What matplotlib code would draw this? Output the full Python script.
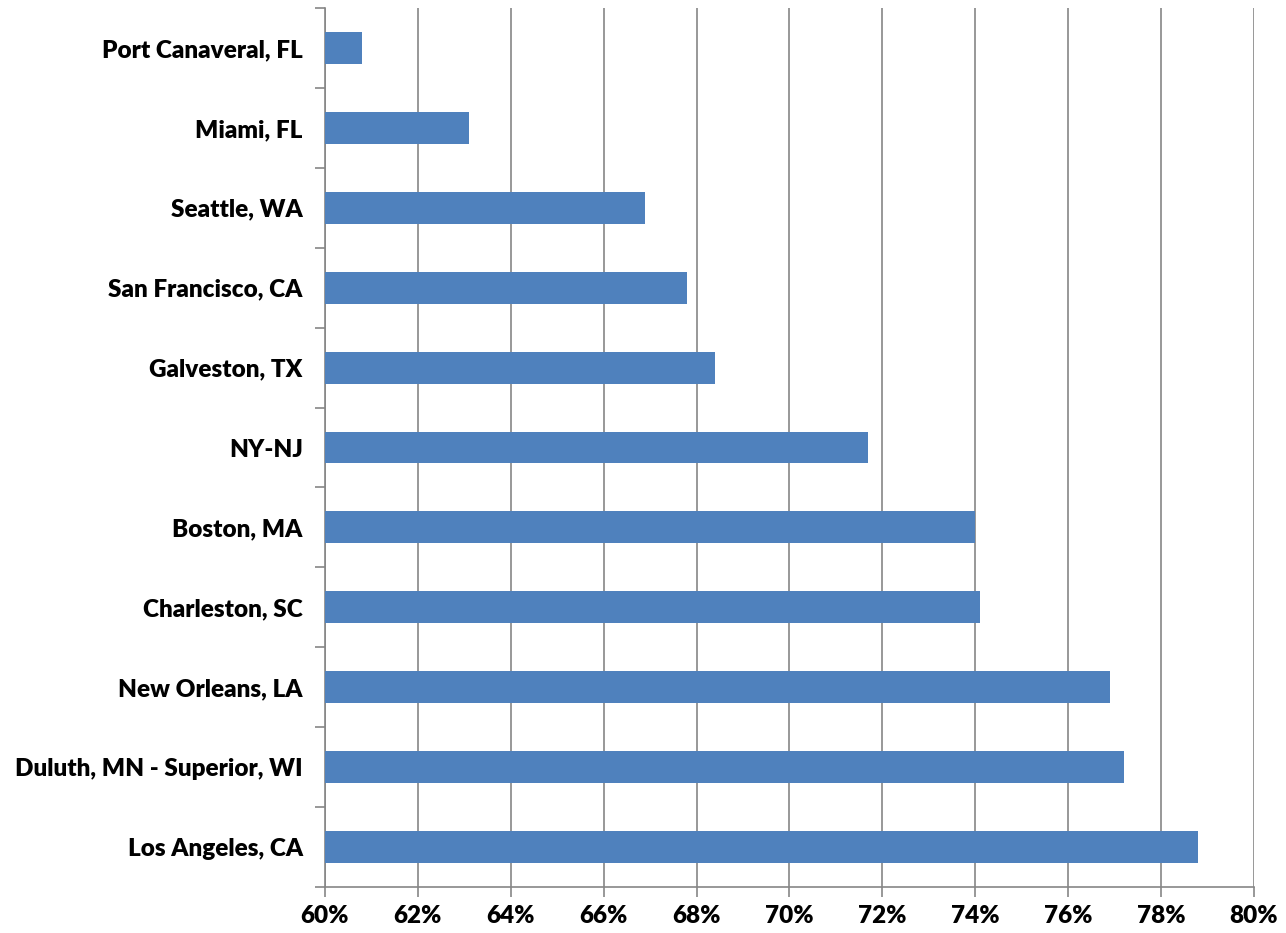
import numpy as np
import matplotlib.pyplot as plt
from matplotlib.ticker import FixedLocator, FuncFormatter

# ports, listed top to bottom
ports = ['Port Canaveral, FL', 'Miami, FL', 'Seattle, WA', 'San Francisco, CA',
         'Galveston, TX', 'NY-NJ', 'Boston, MA', 'Charleston, SC',
         'New Orleans, LA', 'Duluth, MN - Superior, WI', 'Los Angeles, CA']
share = [60.8, 63.1, 66.9, 67.8, 68.4, 71.7, 74.0, 74.1, 76.9, 77.2, 78.8]
xticks = [60, 62, 64, 66, 68, 70, 72, 74, 76, 78, 80]

plt.rcParams['font.family'] = ['Lato', 'DejaVu Sans']
grey = '#868686'

fig = plt.figure(figsize=(12.86, 9.33), dpi=100)
ax = fig.add_axes([0.2527, 0.0493, 0.7224, 0.9421])

y = np.arange(len(ports))
base = xticks[0]
ax.barh(y, np.array(share) - base, left=base, height=0.4, color='#4F81BD', zorder=3)

ax.set_xlim(xticks[0], xticks[-1])
ax.set_ylim(len(ports) - 0.5, -0.5)

ax.set_xticks(xticks)
ax.xaxis.set_major_formatter(FuncFormatter(lambda v, p: '%d%%' % v))
ax.grid(axis='x', color=grey, linewidth=1.2, zorder=0)

ax.set_yticks(y)
ax.set_yticklabels(ports)
ax.yaxis.set_minor_locator(FixedLocator(np.arange(len(ports) + 1) - 0.5))
ax.tick_params(axis='y', which='major', length=0, pad=16)
ax.tick_params(axis='y', which='minor', length=7, width=1.2, color=grey)
ax.tick_params(axis='x', length=7, width=1.2, color=grey, pad=6)

for lab in ax.get_xticklabels() + ax.get_yticklabels():
    lab.set_fontsize(17.5)
    lab.set_fontweight('heavy')

for s in ['top', 'right']:
    ax.spines[s].set_visible(False)
for s in ['left', 'bottom']:
    ax.spines[s].set_color(grey)
    ax.spines[s].set_linewidth(1.2)

fig.savefig('out.png', dpi=100)
